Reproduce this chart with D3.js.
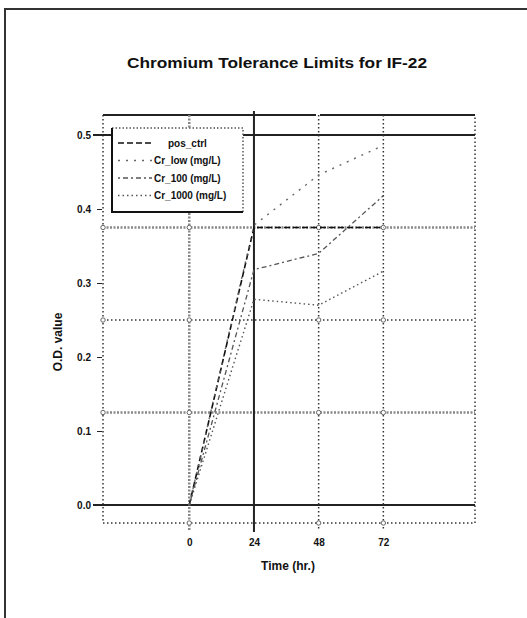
<!DOCTYPE html>
<html>
<head>
<meta charset="utf-8">
<script src="https://cdn.jsdelivr.net/npm/d3@7/dist/d3.min.js"></script>
<style>
body { margin: 0; background-color: white; }
text { font-family: "Liberation Sans", Arial, sans-serif; font-weight: bold; fill: #111; }
</style>
</head>
<body>
<svg id="chart"></svg>
</body>
<script>
// values
var times = [0, 24, 48, 72];
var timeLabels = ["0", "24", "48", "72"];
var posCtrl = [0, 0.375, 0.375, 0.375];
var crLow = [0, 0.378, 0.446, 0.486];
var cr100 = [0, 0.318, 0.34, 0.418];
var cr1000 = [0, 0.278, 0.27, 0.316];
var seriesNames = ["pos_ctrl", "Cr_low (mg/L)", "Cr_100  (mg/L)", "Cr_1000 (mg/L)"];
var yTicks = [0, 0.1, 0.2, 0.3, 0.4, 0.5];
var yGrid = [0.125, 0.25, 0.375];

var series = [
  {name: seriesNames[0], values: posCtrl, dash: "6,3", color: "#111", width: 1.6},
  {name: seriesNames[1], values: crLow, dash: "2,6", color: "#666", width: 1.4},
  {name: seriesNames[2], values: cr100, dash: "2,3,5,3", color: "#555", width: 1.3},
  {name: seriesNames[3], values: cr1000, dash: "1.5,3", color: "#555", width: 1.4}
];

var width = 527, height = 618;
var svg = d3.select("#chart").attr("width", width).attr("height", height);

// outer frame
svg.append("path").attr("d", "M5,618 L5,9 L527,9")
   .attr("fill", "none").attr("stroke", "#333").attr("stroke-width", 2);

var x = d3.scaleLinear().domain([-32, 106]).range([103, 475]);
var y = d3.scaleLinear().domain([0, 0.5]).range([505, 135]);
var pLeft = 103, pRight = 475, pTop = 115, pBottom = 523;

svg.append("text").attr("x", 277).attr("y", 68).attr("text-anchor", "middle")
   .attr("font-size", 15).attr("textLength", 300).attr("lengthAdjust", "spacingAndGlyphs")
   .text("Chromium Tolerance Limits for IF-22");

var g = svg.append("g");

// plot frame: dotted sides, solid top
g.append("path").attr("d", "M" + pLeft + "," + pTop + " V" + pBottom + " H" + pRight + " V" + pTop)
 .attr("fill", "none").attr("stroke", "#333").attr("stroke-width", 1.5).attr("stroke-dasharray", "1.5,2.5");
g.append("line").attr("x1", pLeft).attr("x2", 316).attr("y1", pTop).attr("y2", pTop)
 .attr("stroke", "#222").attr("stroke-width", 2);
g.append("line").attr("x1", 320).attr("x2", pRight).attr("y1", pTop).attr("y2", pTop)
 .attr("stroke", "#222").attr("stroke-width", 2);

// horizontal grid
g.selectAll(".hgrid").data(yGrid).enter().append("line")
 .attr("x1", pLeft).attr("x2", pRight)
 .attr("y1", d => y(d)).attr("y2", d => y(d))
 .attr("stroke", (d, i) => i == 1 ? "#333" : "#888")
 .attr("stroke-width", (d, i) => i == 1 ? 1.5 : 2.5)
 .attr("stroke-dasharray", (d, i) => i == 1 ? "1.5,2.5" : "2,1.5");
// solid lines at 0.0 and 0.5
g.selectAll(".hsolid").data([yTicks[0], yTicks[5]]).enter().append("line")
 .attr("x1", pLeft - 10).attr("x2", pRight)
 .attr("y1", d => y(d)).attr("y2", d => y(d))
 .attr("stroke", "#222").attr("stroke-width", 2);

// vertical grid
g.selectAll(".vgrid").data([times[0], times[2], times[3]]).enter().append("line")
 .attr("x1", d => x(d)).attr("x2", d => x(d))
 .attr("y1", pTop).attr("y2", pBottom + 7)
 .attr("stroke", (d, i) => i == 0 ? "#888" : "#333")
 .attr("stroke-width", (d, i) => i == 0 ? 2.5 : 1.5)
 .attr("stroke-dasharray", (d, i) => i == 0 ? "2,1.5" : "1.5,2.5");
g.append("line").attr("x1", x(times[1])).attr("x2", x(times[1]))
 .attr("y1", pTop - 4).attr("y2", pBottom + 9)
 .attr("stroke", "#222").attr("stroke-width", 2);

// small circles where grid lines cross
var crosses = [];
[times[0], times[2], times[3]].forEach(t => {
  yGrid.forEach(v => crosses.push([x(t), y(v)]));
  crosses.push([x(t), pBottom]);
});
yGrid.forEach(v => crosses.push([pLeft, y(v)]));
g.selectAll(".cross").data(crosses).enter().append("circle")
 .attr("cx", d => d[0]).attr("cy", d => d[1]).attr("r", 2.2)
 .attr("fill", "white").attr("stroke", "#666").attr("stroke-width", 1);

// axes labels
var yAxis = d3.axisLeft(y).tickValues(yTicks).tickSize(5).tickFormat(d3.format(".1f"));
var ya = g.append("g").attr("transform", "translate(" + (pLeft - 1) + ",0)").call(yAxis);
ya.select(".domain").remove();
ya.selectAll("line").attr("stroke", "#222");
ya.selectAll("text").attr("font-size", 10).attr("x", -11).attr("fill", "#111")
  .style("font-family", "Liberation Sans").style("font-weight", "bold");

var xAxis = d3.axisBottom(x).tickValues(times).tickSize(0)
  .tickFormat((d, i) => timeLabels[i]);
var xa = g.append("g").attr("transform", "translate(0," + (pBottom + 13) + ")").call(xAxis);
xa.select(".domain").remove();
xa.selectAll("text").attr("font-size", 10).attr("fill", "#111")
  .style("font-family", "Liberation Sans").style("font-weight", "bold");

svg.append("text").attr("x", 288).attr("y", 570).attr("text-anchor", "middle")
   .attr("font-size", 12).text("Time (hr.)");
svg.append("text").attr("transform", "translate(62,342) rotate(-90)").attr("text-anchor", "middle")
   .attr("font-size", 12).text("O.D. value");

// data lines
var line = d3.line().x((d, i) => x(times[i])).y(d => y(d));
g.selectAll(".series").data(series).enter().append("path")
 .attr("fill", "none")
 .attr("stroke", d => d.color)
 .attr("stroke-width", d => d.width)
 .attr("stroke-dasharray", d => d.dash)
 .attr("d", d => line(d.values));

// legend
var lg = g.append("g").attr("transform", "translate(112,128)");
lg.append("rect").attr("width", 131).attr("height", 84).attr("fill", "white")
  .attr("stroke", "#555").attr("stroke-width", 1.5).attr("stroke-dasharray", "1.5,2");
lg.append("path").attr("d", "M0,0 V84 H131").attr("fill", "none")
  .attr("stroke", "#111").attr("stroke-width", 2);
var items = lg.selectAll(".item").data(series).enter().append("g")
  .attr("transform", (d, i) => "translate(0," + (15 + i * 17.5) + ")");
items.append("line").attr("x1", 6).attr("x2", 40).attr("y1", 0).attr("y2", 0)
  .attr("stroke", d => d.color).attr("stroke-width", d => d.width)
  .attr("stroke-dasharray", d => d.dash);
items.append("text").attr("x", (d, i) => i == 0 ? 56 : 42).attr("y", 3.5)
  .attr("font-size", 10).text(d => d.name);
</script>
</html>
